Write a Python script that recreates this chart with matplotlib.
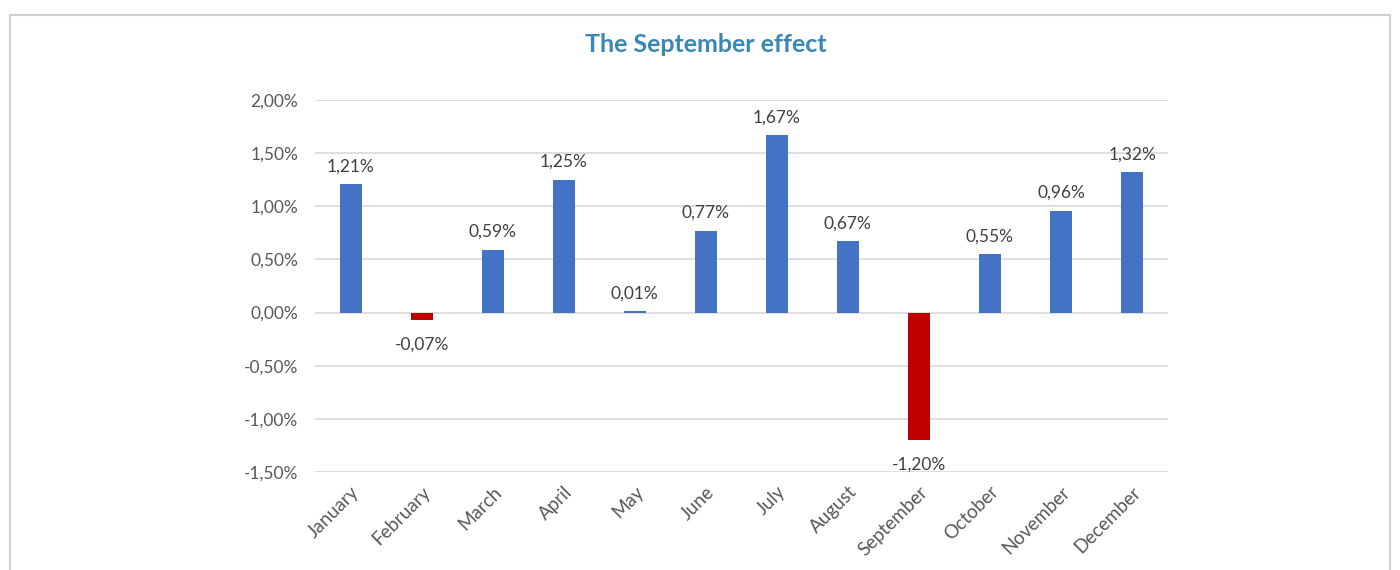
import matplotlib
matplotlib.use("Agg")
import matplotlib.pyplot as plt
from matplotlib.lines import Line2D
import numpy as np

months = ["January", "February", "March", "April", "May", "June", "July",
          "August", "September", "October", "November", "December"]
returns = [1.21, -0.07, 0.59, 1.25, 0.01, 0.77, 1.67, 0.67, -1.20, 0.55, 0.96, 1.32]
yticks = [2.0, 1.5, 1.0, 0.5, 0.0, -0.5, -1.0, -1.5]

plt.rcParams['font.family'] = ['Lato', 'DejaVu Sans']

fig = plt.figure(figsize=(14, 5.7), dpi=100)
ax = fig.add_axes([0.225, 0.172, 0.609, 0.6526])

# frame around the whole chart
fig.add_artist(Line2D([10/1400, 1390/1400], [1 - 15/570, 1 - 15/570], color="#d0d0d0", lw=1.5))
fig.add_artist(Line2D([10/1400, 10/1400], [0, 1 - 15/570], color="#d0d0d0", lw=1.5))
fig.add_artist(Line2D([1390/1400, 1390/1400], [0, 1 - 15/570], color="#d0d0d0", lw=1.5))

colors = ["#c00000" if v < 0 else "#4472c4" for v in returns]
x = np.arange(len(months))
ax.bar(x, returns, width=0.31, color=colors, zorder=3)

for xi, v in zip(x, returns):
    lbl = f"{v:.2f}%".replace(".", ",")
    if v >= 0:
        ax.annotate(lbl, (xi, v), xytext=(0, 7), textcoords="offset points",
                    ha="center", va="bottom", fontsize=12.5, color="#404040")
    else:
        ax.annotate(lbl, (xi, v), xytext=(0, -12), textcoords="offset points",
                    ha="center", va="top", fontsize=12.5, color="#404040")

ax.set_xlim(-0.5, len(months) - 0.5)
ax.set_ylim(-1.5, 2.0)
ax.set_yticks(yticks)
ax.set_yticklabels([f"{t:.2f}%".replace(".", ",") for t in yticks], fontsize=12.5, color="#595959")
ax.set_xticks(x)
ax.set_xticklabels(months, rotation=45, ha="right", rotation_mode="anchor",
                   fontsize=13.5, color="#595959")
ax.tick_params(length=0, pad=12)
ax.tick_params(axis="x", pad=8)
ax.grid(axis="y", color="#d9d9d9", lw=1.2, zorder=0)
for s in ax.spines.values():
    s.set_visible(False)

fig.text(0.504, 1 - 45/570, "The September effect", ha="center", va="center",
         fontsize=18, fontweight="bold", color="#3a87b5")

fig.savefig("out.png", dpi=100)
